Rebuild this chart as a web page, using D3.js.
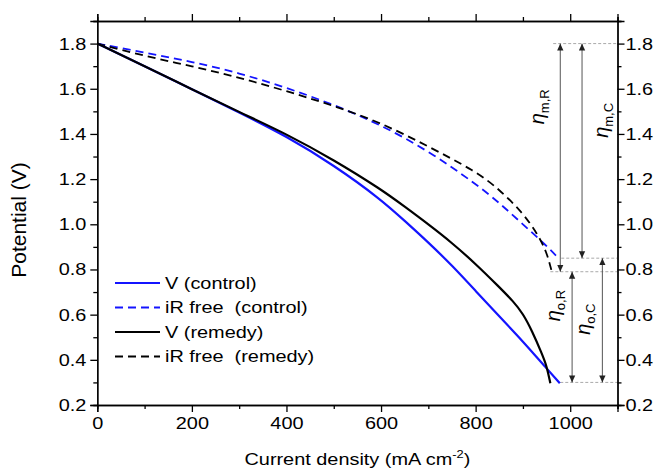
<!DOCTYPE html>
<html>
<head>
<meta charset="utf-8">
<script src="https://cdn.jsdelivr.net/npm/d3@7"></script>
<style>
  body { margin: 0; background: #fff; }
  svg { font-family: "Liberation Sans", Arial, sans-serif; }
  .axis path, .axis line { stroke: #000; stroke-width: 1.3px; }
  .axis text { font-size: 17px; fill: #000; }
  .wide { transform-box: fill-box; transform-origin: center; transform: scaleX(1.17); }
  .wideL { transform-box: fill-box; transform-origin: left center; transform: scaleX(1.17); }
</style>
</head>
<body>
<div id="chart"></div>
<script>
// polarisation curves
var vControlX   = [0, 100, 200, 300, 400, 500, 600, 650, 700, 750, 800, 850, 900, 950, 978];
var vControlY   = [1.80, 1.700, 1.598, 1.495, 1.390, 1.262, 1.110, 1.015, 0.920, 0.818, 0.705, 0.592, 0.482, 0.362, 0.296];
var irControlX  = [0, 100, 200, 300, 400, 500, 600, 700, 800, 850, 900, 950, 975];
var irControlY  = [1.80, 1.760, 1.720, 1.670, 1.605, 1.530, 1.440, 1.325, 1.180, 1.095, 1.000, 0.905, 0.850];
var vRemedyX    = [0, 100, 200, 300, 400, 500, 600, 650, 700, 750, 800, 850, 880, 900, 920, 940, 950, 958];
var vRemedyY    = [1.80, 1.700, 1.598, 1.497, 1.400, 1.285, 1.155, 1.078, 1.000, 0.918, 0.825, 0.722, 0.658, 0.605, 0.525, 0.428, 0.375, 0.296];
var irRemedyX   = [0, 100, 200, 300, 400, 500, 600, 700, 800, 850, 900, 930, 950, 961];
var irRemedyY   = [1.80, 1.745, 1.700, 1.650, 1.590, 1.525, 1.450, 1.345, 1.235, 1.155, 1.050, 0.960, 0.880, 0.790];

var seriesNames = ["V (control)", "iR free  (control)", "V (remedy)", "iR free  (remedy)"];
var seriesColors = ["#1414ff", "#1414ff", "#000", "#000"];
var seriesDashed = [false, true, false, true];

var xTicks = [0, 200, 400, 600, 800, 1000];
var xMinor = [100, 300, 500, 700, 900, 1100];
var yTicks = [0.2, 0.4, 0.6, 0.8, 1.0, 1.2, 1.4, 1.6, 1.8];
var yMinor = [0.3, 0.5, 0.7, 0.9, 1.1, 1.3, 1.5, 1.7, 1.9];

// overpotential guides: levels and arrows (current density, from, to)
var guideLevels = [1.8, 0.85, 0.79, 0.30];
var guideStart  = [964, 981, 958, 979];
var arrowX      = [979, 1025, 1004, 1068];
var arrowFrom   = [1.8, 1.8, 0.79, 0.85];
var arrowTo     = [0.79, 0.85, 0.30, 0.30];
var etaSub      = ["m,R", "m,C", "o,R", "o,C"];
var etaX        = [935, 1070, 969, 1032];
var etaY        = [1.52, 1.46, 0.64, 0.58];

var width = 658, height = 474;

var x = d3.scaleLinear().domain([0, 1100]).range([97.3, 617.5]);
var y = d3.scaleLinear().domain([0.2, 1.9]).range([405, 21]);

var svg = d3.select("#chart").append("svg")
    .attr("width", width)
    .attr("height", height);

var defs = svg.append("defs");
defs.append("marker")
    .attr("id", "head")
    .attr("viewBox", "0 0 10 10")
    .attr("refX", 10).attr("refY", 5)
    .attr("markerWidth", 7).attr("markerHeight", 7)
    .attr("markerUnits", "userSpaceOnUse")
    .attr("orient", "auto-start-reverse")
  .append("path")
    .attr("d", "M0,0.5L10,5L0,9.5Z")
    .attr("fill", "#222");

// guides
svg.selectAll(".guide")
    .data(guideLevels)
  .enter().append("line")
    .attr("class", "guide")
    .attr("x1", function(d, i) { return x(guideStart[i]); })
    .attr("x2", x(1100))
    .attr("y1", function(d) { return y(d); })
    .attr("y2", function(d) { return y(d); })
    .attr("stroke", "#aaa")
    .attr("stroke-width", 1)
    .attr("stroke-dasharray", "3,2");

svg.selectAll(".arrow")
    .data(arrowX)
  .enter().append("line")
    .attr("class", "arrow")
    .attr("x1", function(d) { return x(d); })
    .attr("x2", function(d) { return x(d); })
    .attr("y1", function(d, i) { return y(arrowFrom[i]); })
    .attr("y2", function(d, i) { return y(arrowTo[i]); })
    .attr("stroke", "#555")
    .attr("stroke-width", 1)
    .attr("marker-start", "url(#head)")
    .attr("marker-end", "url(#head)");

etaSub.forEach(function(s, i) {
  var t = svg.append("text")
      .attr("transform", "translate(" + x(etaX[i]) + "," + y(etaY[i]) + ") rotate(-90)")
      .attr("text-anchor", "middle")
      .attr("dy", "0.3em");
  t.append("tspan")
      .attr("font-size", "20px")
      .attr("font-style", "italic")
      .text("\u03b7");
  t.append("tspan")
      .attr("font-size", "13px")
      .attr("dy", "5")
      .text(s);
});

// curves
var line = d3.line()
    .x(function(d) { return x(d[0]); })
    .y(function(d) { return y(d[1]); })
    .curve(d3.curveBasis);

var allX = [vControlX, irControlX, vRemedyX, irRemedyX];
var allY = [vControlY, irControlY, vRemedyY, irRemedyY];

// draw order: dashed first, then solid remedy on top of control
[1, 3, 0, 2].forEach(function(k) {
  var pts = allX[k].map(function(v, i) { return [v, allY[k][i]]; });
  svg.append("path")
      .attr("d", line(pts))
      .attr("fill", "none")
      .attr("stroke", seriesColors[k])
      .attr("stroke-width", seriesDashed[k] ? 1.8 : 2.2)
      .attr("stroke-dasharray", seriesDashed[k] ? "8,5" : null);
});

// axes
function addAxis(axis, tr, cls) {
  var g = svg.append("g")
      .attr("class", "axis")
      .attr("transform", tr)
      .call(axis);
  g.selectAll("text").attr("class", cls || "wide");
  return g;
}

addAxis(d3.axisBottom(x).tickValues(xTicks).tickSize(7).tickPadding(5).tickFormat(d3.format("d")), "translate(0," + y(0.2) + ")");
addAxis(d3.axisBottom(x).tickValues(xMinor).tickSize(4).tickFormat(""), "translate(0," + y(0.2) + ")");
addAxis(d3.axisTop(x).tickValues(xTicks).tickSize(7).tickFormat(""), "translate(0," + y(1.9) + ")");
addAxis(d3.axisTop(x).tickValues(xMinor).tickSize(4).tickFormat(""), "translate(0," + y(1.9) + ")");
addAxis(d3.axisLeft(y).tickValues(yTicks).tickSize(7).tickPadding(6).tickFormat(d3.format(".1f")), "translate(" + x(0) + ",0)");
addAxis(d3.axisLeft(y).tickValues(yMinor).tickSize(4).tickFormat(""), "translate(" + x(0) + ",0)");
addAxis(d3.axisRight(y).tickValues(yTicks).tickSize(7).tickPadding(3).tickFormat(d3.format(".1f")), "translate(" + x(1100) + ",0)");
addAxis(d3.axisRight(y).tickValues(yMinor).tickSize(4).tickFormat(""), "translate(" + x(1100) + ",0)");

svg.selectAll(".axis .domain").attr("stroke-width", 1.5);

// axis titles
var xt = svg.append("text")
    .attr("class", "wide")
    .attr("x", (x(0) + x(1100)) / 2)
    .attr("y", 465)
    .attr("text-anchor", "middle")
    .attr("font-size", "17px")
    .text("Current density (mA cm");
xt.append("tspan").attr("font-size", "11px").attr("dy", "-7").text("-2");
xt.append("tspan").attr("dy", "7").text(")");

svg.append("text")
    .attr("transform", "translate(26,220) rotate(-90)")
    .attr("text-anchor", "middle")
    .attr("font-size", "21px")
    .text("Potential (V)");

// legend
var legend = svg.selectAll(".legend")
    .data(seriesNames)
  .enter().append("g")
    .attr("class", "legend")
    .attr("transform", function(d, i) { return "translate(115," + (283 + i * 24.5) + ")"; });

legend.append("line")
    .attr("x1", 0).attr("x2", 45)
    .attr("stroke", function(d, i) { return seriesColors[i]; })
    .attr("stroke-width", function(d, i) { return seriesDashed[i] ? 1.8 : 2.2; })
    .attr("stroke-dasharray", function(d, i) { return seriesDashed[i] ? "8,5" : null; });

legend.append("text")
    .attr("class", "wideL")
    .attr("x", 50)
    .attr("dy", "0.35em")
    .attr("font-size", "17px")
    .style("white-space", "pre")
    .text(function(d) { return d; });
</script>
</body>
</html>
